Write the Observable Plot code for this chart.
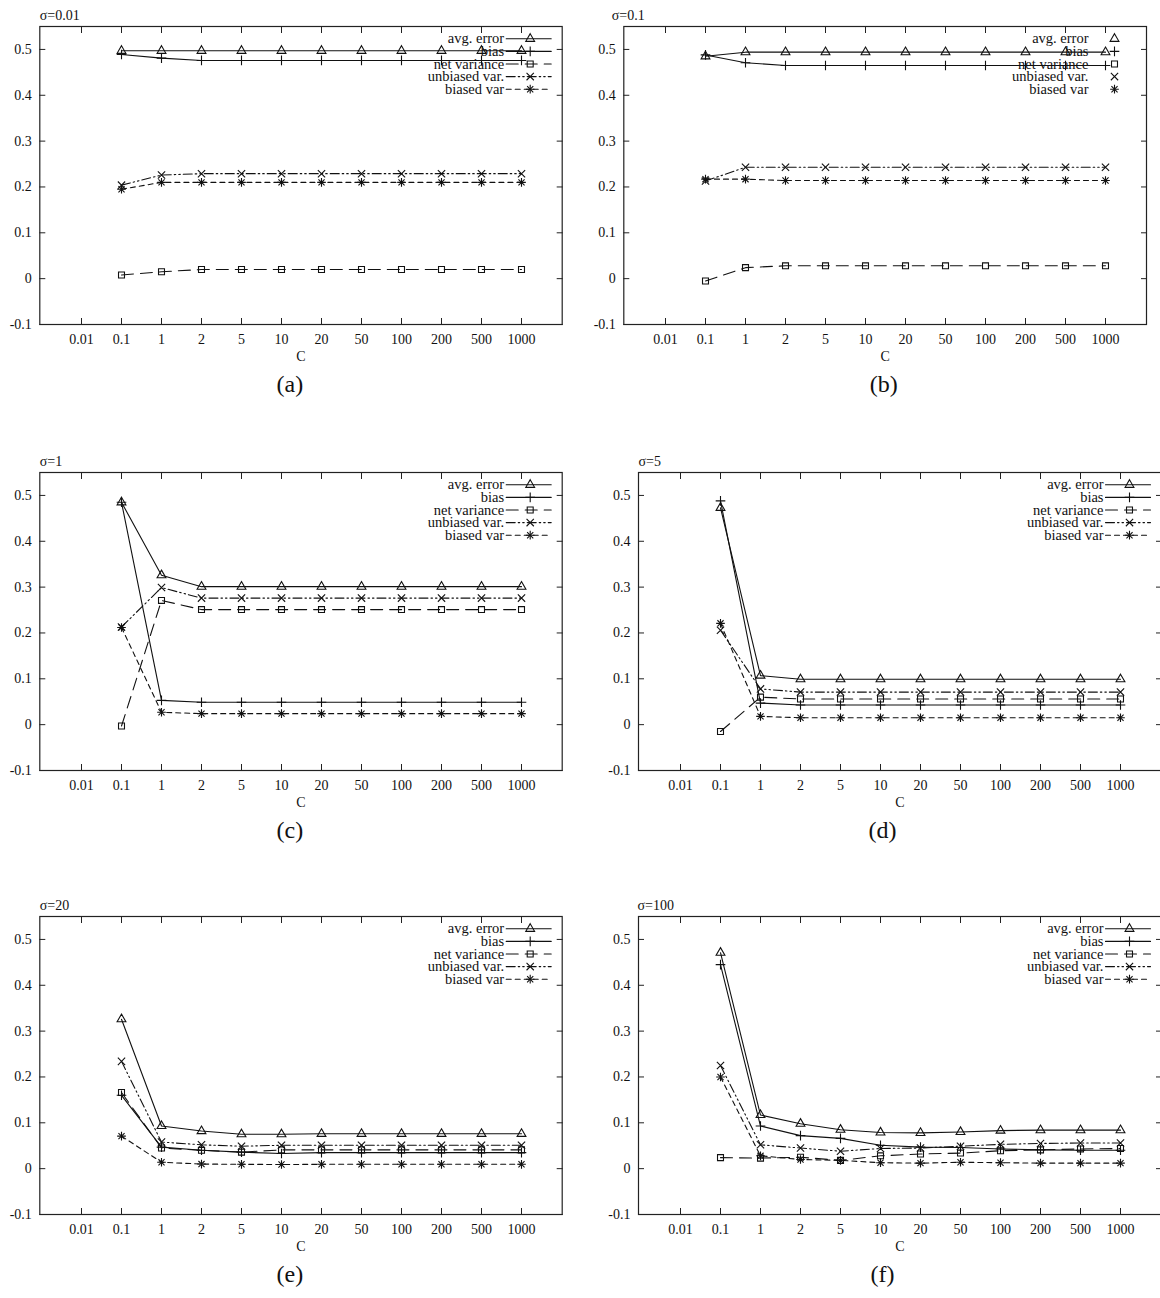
<!DOCTYPE html>
<html><head><meta charset="utf-8">
<script src="https://cdn.jsdelivr.net/npm/d3@7"></script>
<script src="https://cdn.jsdelivr.net/npm/@observablehq/plot@0.6"></script>
<style>
html,body{margin:0;padding:0;background:#fff;}
body{width:1160px;height:1298px;overflow:hidden;position:relative;}
.panel{position:absolute;}
</style></head><body>
<script>
// ---- data ----
const cLabels = ["0.01","0.1","1","2","5","10","20","50","100","200","500","1000"];
const yTicks = [-0.1, 0, 0.1, 0.2, 0.3, 0.4, 0.5];
const seriesNames = ["avg. error","bias","net variance","unbiased var.","biased var"];
const sigmaLabels = ["σ=0.01","σ=0.1","σ=1","σ=5","σ=20","σ=100"];
const panelLetters = ["(a)","(b)","(c)","(d)","(e)","(f)"];
// values for C = 0.1, 1, 2, 5, 10, 20, 50, 100, 200, 500, 1000
const a_avgError = [0.497,0.497,0.497,0.497,0.497,0.497,0.497,0.497,0.497,0.497,0.497];
const a_bias     = [0.489,0.481,0.476,0.476,0.476,0.476,0.476,0.476,0.476,0.476,0.476];
const a_netVar   = [0.008,0.015,0.020,0.020,0.020,0.020,0.020,0.020,0.020,0.020,0.020];
const a_unbiased = [0.204,0.226,0.229,0.229,0.229,0.229,0.229,0.229,0.229,0.229,0.229];
const a_biased   = [0.195,0.210,0.210,0.210,0.210,0.210,0.210,0.210,0.210,0.210,0.210];

const b_avgError = [0.485,0.494,0.494,0.494,0.494,0.494,0.494,0.494,0.494,0.494,0.494];
const b_bias     = [0.488,0.471,0.465,0.465,0.465,0.465,0.465,0.465,0.465,0.465,0.465];
const b_netVar   = [-0.005,0.024,0.028,0.028,0.028,0.028,0.028,0.028,0.028,0.028,0.028];
const b_unbiased = [0.213,0.243,0.243,0.243,0.243,0.243,0.243,0.243,0.243,0.243,0.243];
const b_biased   = [0.217,0.217,0.214,0.214,0.214,0.214,0.214,0.214,0.214,0.214,0.214];

const c_avgError = [0.485,0.326,0.301,0.301,0.301,0.301,0.301,0.301,0.301,0.301,0.301];
const c_bias     = [0.485,0.053,0.049,0.049,0.049,0.049,0.049,0.049,0.049,0.049,0.049];
const c_netVar   = [-0.003,0.271,0.251,0.251,0.251,0.251,0.251,0.251,0.251,0.251,0.251];
const c_unbiased = [0.213,0.299,0.276,0.276,0.276,0.276,0.276,0.276,0.276,0.276,0.276];
const c_biased   = [0.212,0.027,0.024,0.024,0.024,0.024,0.024,0.024,0.024,0.024,0.024];

const d_avgError = [0.473,0.107,0.099,0.099,0.099,0.099,0.099,0.099,0.099,0.099,0.099];
const d_bias     = [0.488,0.047,0.043,0.043,0.043,0.043,0.043,0.043,0.043,0.043,0.043];
const d_netVar   = [-0.015,0.060,0.056,0.056,0.056,0.056,0.056,0.056,0.056,0.056,0.056];
const d_unbiased = [0.206,0.078,0.071,0.071,0.071,0.071,0.071,0.071,0.071,0.071,0.071];
const d_biased   = [0.221,0.018,0.015,0.015,0.015,0.015,0.015,0.015,0.015,0.015,0.015];

const e_avgError = [0.326,0.093,0.082,0.075,0.075,0.076,0.076,0.076,0.076,0.076,0.076];
const e_bias     = [0.160,0.047,0.040,0.036,0.033,0.035,0.035,0.035,0.035,0.035,0.035];
const e_netVar   = [0.166,0.045,0.040,0.036,0.041,0.041,0.041,0.041,0.041,0.041,0.041];
const e_unbiased = [0.234,0.058,0.052,0.049,0.051,0.051,0.051,0.051,0.051,0.051,0.051];
const e_biased   = [0.071,0.014,0.010,0.0095,0.009,0.0095,0.0095,0.0095,0.0095,0.0095,0.0095];

const f_avgError = [0.471,0.117,0.098,0.085,0.079,0.078,0.080,0.083,0.084,0.084,0.084];
const f_bias     = [0.445,0.093,0.072,0.066,0.051,0.047,0.046,0.043,0.041,0.040,0.040];
const f_netVar   = [0.024,0.023,0.025,0.018,0.028,0.032,0.034,0.039,0.041,0.043,0.044];
const f_unbiased = [0.225,0.052,0.045,0.038,0.044,0.045,0.049,0.053,0.055,0.056,0.056];
const f_biased   = [0.200,0.028,0.020,0.018,0.013,0.012,0.014,0.013,0.012,0.012,0.012];

// ---- styles / layout ----
const seriesStyles = [
  {dash: undefined, symbols: ["triangle2"], r: 4.2},
  {dash: undefined, symbols: ["plus"], r: 3.2},
  {dash: "12,7", symbols: ["square2"], r: 3.8},
  {dash: "9,3,1.5,3,1.5,3", symbols: ["times"], r: 3.4},
  {dash: "5,4", symbols: ["plus", "times"], r: 2.9}
];
const panels = [
  {left: 0,   top: 0,   width: 580, ml: 39.3, mr: 18.3, titleDx: 0,   letterDx: 250, legendLines: true,
   values: [a_avgError, a_bias, a_netVar, a_unbiased, a_biased]},
  {left: 580, top: 0,   width: 580, ml: 43.3, mr: 14,   titleDx: -12, letterDx: 260, legendLines: false,
   values: [b_avgError, b_bias, b_netVar, b_unbiased, b_biased]},
  {left: 0,   top: 446, width: 580, ml: 39.3, mr: 18.3, titleDx: 0,   letterDx: 250, legendLines: true,
   values: [c_avgError, c_bias, c_netVar, c_unbiased, c_biased]},
  {left: 580, top: 446, width: 600, ml: 58,   mr: 19,   titleDx: 0,   letterDx: 244, legendLines: true,
   values: [d_avgError, d_bias, d_netVar, d_unbiased, d_biased]},
  {left: 0,   top: 890, width: 580, ml: 39.3, mr: 18.3, titleDx: 0,   letterDx: 250, legendLines: true,
   values: [e_avgError, e_bias, e_netVar, e_unbiased, e_biased]},
  {left: 580, top: 890, width: 600, ml: 58,   mr: 19,   titleDx: -1,  letterDx: 244, legendLines: true,
   values: [f_avgError, f_bias, f_netVar, f_unbiased, f_biased]}
];
const ink = "#111";
const lineShape = {draw(context, l) { context.moveTo(0, 0); context.lineTo(0, -l); }};
const yFmt = d => String(Math.round(d * 10) / 10);

panels.forEach((p, k) => {
  const rows = [];
  p.values.forEach((vals, s) => vals.forEach((v, i) => rows.push({s, c: cLabels[i + 1], v})));
  const marks = [
    Plot.frame({stroke: "#222", strokeWidth: 1.2}),
    Plot.axisX({anchor: "bottom", tickSize: 0, tickPadding: 10, label: null, fill: ink}),
    Plot.axisX({anchor: "bottom", tickSize: -6, fill: "none", label: null, stroke: "#222"}),
    Plot.axisX({anchor: "top", tickSize: -6, fill: "none", label: null, stroke: "#222"}),
    Plot.axisY(yTicks, {anchor: "left", tickSize: 0, tickPadding: 8, tickFormat: yFmt, label: null, fill: ink}),
    Plot.axisY(yTicks, {anchor: "left", tickSize: -6, fill: "none", label: null, stroke: "#222"}),
    Plot.axisY(yTicks, {anchor: "right", tickSize: -6, fill: "none", label: null, stroke: "#222"}),
    Plot.text([sigmaLabels[k]], {text: d => d, frameAnchor: "top-left", dx: p.titleDx, dy: -11, textAnchor: "start", lineAnchor: "middle", fill: ink}),
    Plot.text(["C"], {text: d => d, frameAnchor: "bottom", dy: 32, textAnchor: "middle", lineAnchor: "middle", fill: ink}),
    Plot.text([panelLetters[k]], {text: d => d, frameAnchor: "bottom-left", dx: p.letterDx, dy: 60, textAnchor: "middle", lineAnchor: "middle", fontSize: 24, fill: ink})
  ];
  seriesNames.forEach((name, s) => {
    const st = seriesStyles[s];
    const d = rows.filter(r => r.s === s);
    marks.push(Plot.line(d, {x: "c", y: "v", stroke: ink, strokeWidth: 1.1, strokeDasharray: st.dash}));
    st.symbols.forEach(sym => marks.push(Plot.dot(d, {x: "c", y: "v", symbol: sym, r: st.r, stroke: ink, fill: "none", strokeWidth: 1.1})));
    const dy = 12.3 + 12.6 * s;
    marks.push(Plot.text([name], {text: d => d, frameAnchor: "top-right", dx: -58, dy, textAnchor: "end", lineAnchor: "middle", fontSize: 14.5, fill: ink}));
    if (p.legendLines) marks.push(Plot.vector([name], {frameAnchor: "top-right", dx: -56, dy, length: 45, rotate: 90, anchor: "start", shape: lineShape, stroke: ink, strokeWidth: 1.1, strokeDasharray: st.dash}));
    st.symbols.forEach(sym => marks.push(Plot.dot([name], {frameAnchor: "top-right", dx: -32, dy, symbol: sym, r: st.r, stroke: ink, fill: "none", strokeWidth: 1.1})));
  });
  const chart = Plot.plot({
    width: p.width, height: 404,
    marginTop: 26, marginBottom: 80, marginLeft: p.ml, marginRight: p.mr,
    x: {type: "point", domain: cLabels, padding: 1},
    y: {domain: [-0.1, 0.55]},
    style: {fontFamily: "'Liberation Serif', 'Times New Roman', serif", fontSize: "14px", color: ink, background: "white", overflow: "visible"},
    marks
  });
  const div = document.createElement("div");
  div.className = "panel";
  div.style.left = p.left + "px";
  div.style.top = p.top + "px";
  div.style.width = p.width + "px";
  div.appendChild(chart);
  document.body.appendChild(div);
});
</script>
</body></html>
